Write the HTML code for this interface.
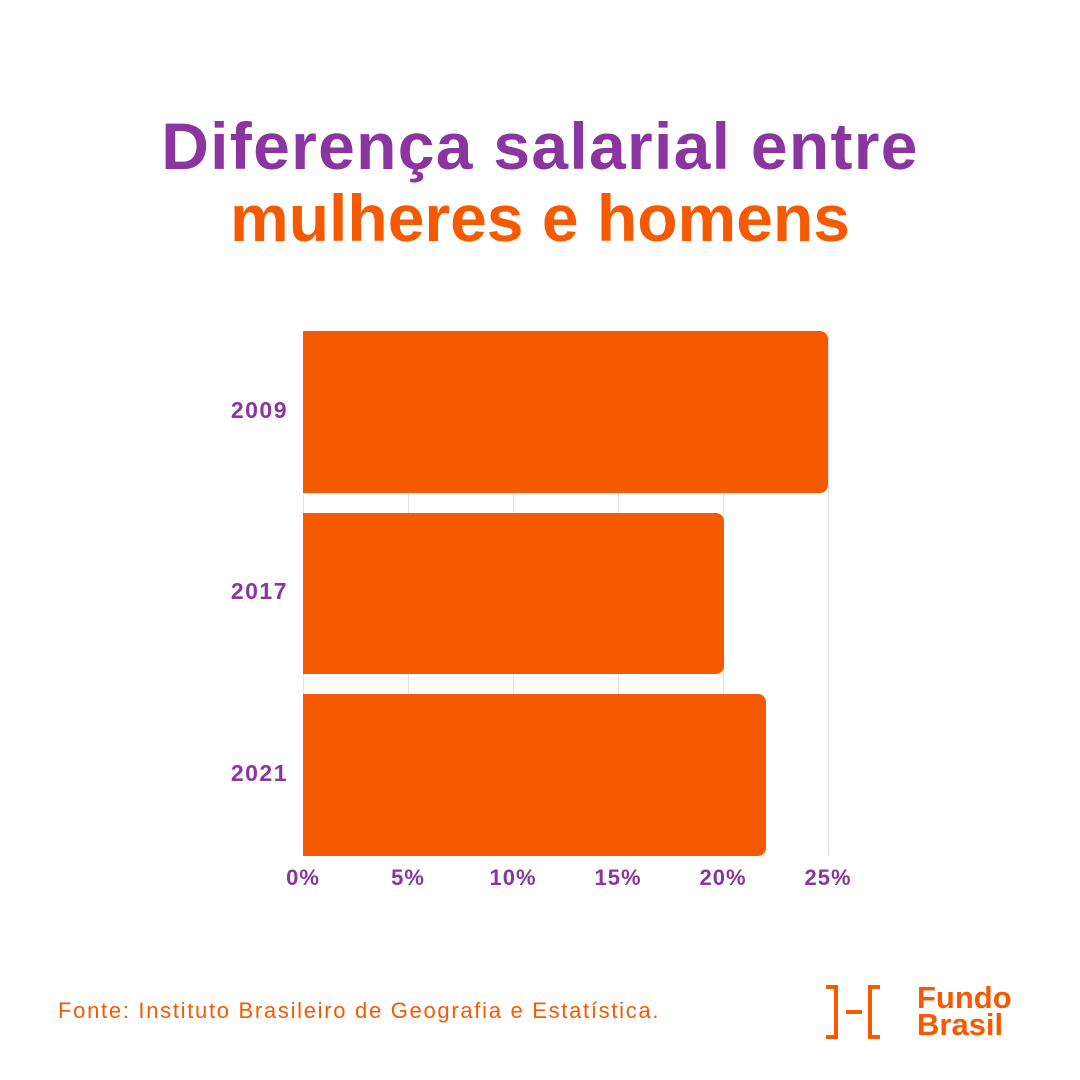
<!DOCTYPE html>
<html><head><meta charset="utf-8"><style>
body{margin:0;width:1080px;height:1080px;background:#fff;position:relative;overflow:hidden;font-family:"Liberation Sans",sans-serif}
.t{position:absolute;left:0;width:1080px;text-align:center;font-weight:bold;font-size:66px;line-height:1}
.g{position:absolute;top:331px;height:525px;width:1px;background:#e8dcef}
.bar{position:absolute;left:303px;background:#f55a00;border-radius:0 8px 8px 0}
.y{position:absolute;width:80px;left:208px;text-align:right;color:#8a35a0;font-weight:bold;font-size:23px;letter-spacing:1.5px}
.x{position:absolute;top:865px;width:80px;text-align:center;color:#8a35a0;font-weight:bold;font-size:22px;letter-spacing:1px}
</style></head><body>
<div class="t" style="top:113px;color:#8a35a0;letter-spacing:1.3px">Diferença salarial entre</div>
<div class="t" style="top:185px;color:#f55a00">mulheres e homens</div>
<div class="g" style="left:303px"></div><div class="g" style="left:408px"></div><div class="g" style="left:513px"></div><div class="g" style="left:618px"></div><div class="g" style="left:723px"></div><div class="g" style="left:828px"></div>
<div class="bar" style="top:331px;height:162px;width:525px"></div>
<div class="bar" style="top:513px;height:161px;width:421px"></div>
<div class="bar" style="top:694px;height:162px;width:463px"></div>
<div class="y" style="top:397px">2009</div>
<div class="y" style="top:578px">2017</div>
<div class="y" style="top:760px">2021</div>
<div class="x" style="left:263px">0%</div><div class="x" style="left:368px">5%</div><div class="x" style="left:473px">10%</div><div class="x" style="left:578px">15%</div><div class="x" style="left:683px">20%</div><div class="x" style="left:788px">25%</div>
<div style="position:absolute;left:58px;top:998px;color:#f55a00;font-size:22px;letter-spacing:1.7px">Fonte: Instituto Brasileiro de Geografia e Estatística.</div>
<svg style="position:absolute;left:820px;top:983px" width="70" height="60"><g fill="none" stroke="#f55a00" stroke-width="4"><path d="M6 4h10v50H6"/><path d="M60 4H50v50h10"/><path d="M26 29h16"/></g></svg>
<div style="position:absolute;left:917px;top:984px;color:#f55a00;font-weight:bold;font-size:31px;line-height:27px">Fundo<br>Brasil</div>
</body></html>
